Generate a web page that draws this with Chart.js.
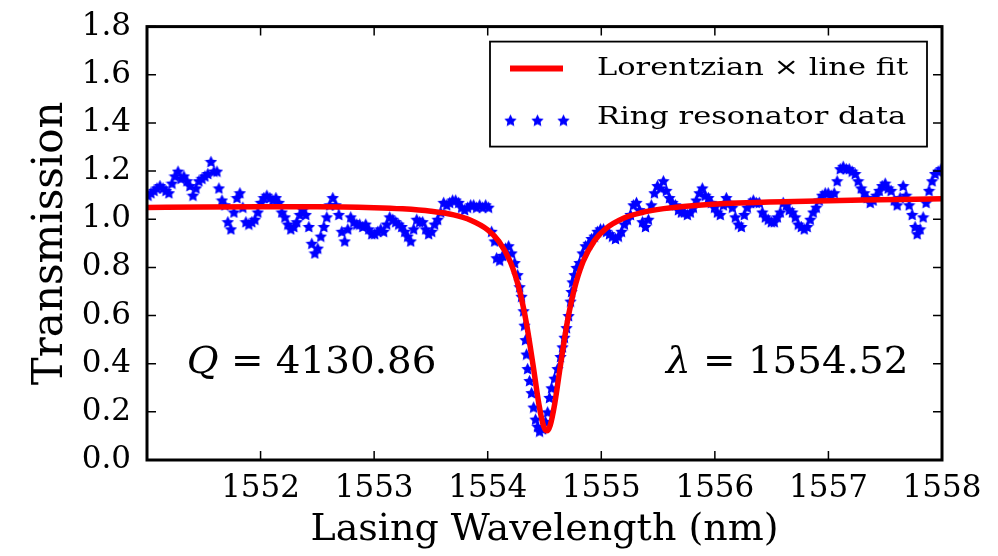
<!DOCTYPE html>
<html>
<head>
<meta charset="utf-8">
<script src="https://cdn.jsdelivr.net/npm/chart.js@4.4.1/dist/chart.umd.min.js"></script>
<style>
  body { margin: 0; background: #fff; }
  #wrap { width: 998px; height: 556px; }
</style>
</head>
<body>
<div id="wrap"><canvas id="chart" width="998" height="556"></canvas></div>
<script>
const dataWavelength = [
  1551.009, 1551.035, 1551.062, 1551.088, 1551.114, 1551.141, 1551.167, 1551.193, 1551.220, 1551.246,
  1551.273, 1551.299, 1551.325, 1551.352, 1551.378, 1551.405, 1551.431, 1551.457, 1551.484, 1551.510,
  1551.536, 1551.563, 1551.589, 1551.616, 1551.633, 1551.660, 1551.686, 1551.712, 1551.739, 1551.765,
  1551.792, 1551.818, 1551.844, 1551.871, 1551.897, 1551.923, 1551.950, 1551.976, 1552.003, 1552.029,
  1552.055, 1552.082, 1552.108, 1552.135, 1552.161, 1552.187, 1552.214, 1552.240, 1552.266, 1552.293,
  1552.319, 1552.346, 1552.372, 1552.398, 1552.425, 1552.451, 1552.478, 1552.504, 1552.530, 1552.557,
  1552.583, 1552.609, 1552.636, 1552.662, 1552.689, 1552.715, 1552.741, 1552.768, 1552.794, 1552.821,
  1552.847, 1552.873, 1552.900, 1552.926, 1552.952, 1552.979, 1553.005, 1553.032, 1553.058, 1553.084,
  1553.111, 1553.137, 1553.164, 1553.190, 1553.216, 1553.243, 1553.269, 1553.295, 1553.322, 1553.348,
  1553.375, 1553.401, 1553.427, 1553.454, 1553.480, 1553.507, 1553.533, 1553.559, 1553.586, 1553.612,
  1553.639, 1553.665, 1553.691, 1553.718, 1553.744, 1553.770, 1553.797, 1553.823, 1553.850, 1553.876,
  1553.902, 1553.929, 1553.955, 1553.982, 1554.008, 1554.034, 1554.061, 1554.078, 1554.105, 1554.131,
  1554.157, 1554.184, 1554.210, 1554.237, 1554.263, 1554.281, 1554.298, 1554.316, 1554.324, 1554.333,
  1554.342, 1554.351, 1554.368, 1554.386, 1554.404, 1554.421, 1554.439, 1554.456, 1554.483, 1554.509,
  1554.527, 1554.544, 1554.562, 1554.588, 1554.615, 1554.641, 1554.659, 1554.676, 1554.694, 1554.712,
  1554.729, 1554.738, 1554.747, 1554.764, 1554.782, 1554.808, 1554.835, 1554.861, 1554.887, 1554.914,
  1554.940, 1554.966, 1554.993, 1555.019, 1555.046, 1555.072, 1555.098, 1555.125, 1555.151, 1555.178,
  1555.204, 1555.230, 1555.257, 1555.283, 1555.310, 1555.336, 1555.362, 1555.389, 1555.415, 1555.441,
  1555.468, 1555.494, 1555.521, 1555.547, 1555.573, 1555.600, 1555.626, 1555.653, 1555.679, 1555.705,
  1555.732, 1555.758, 1555.784, 1555.811, 1555.837, 1555.864, 1555.890, 1555.916, 1555.943, 1555.969,
  1555.996, 1556.022, 1556.048, 1556.075, 1556.101, 1556.127, 1556.154, 1556.180, 1556.207, 1556.233,
  1556.259, 1556.286, 1556.312, 1556.339, 1556.365, 1556.391, 1556.418, 1556.444, 1556.470, 1556.497,
  1556.523, 1556.550, 1556.576, 1556.602, 1556.629, 1556.655, 1556.682, 1556.708, 1556.734, 1556.761,
  1556.787, 1556.813, 1556.840, 1556.866, 1556.893, 1556.919, 1556.945, 1556.972, 1556.998, 1557.024,
  1557.051, 1557.077, 1557.104, 1557.130, 1557.157, 1557.183, 1557.209, 1557.236, 1557.262, 1557.288,
  1557.315, 1557.341, 1557.368, 1557.394, 1557.420, 1557.447, 1557.473, 1557.500, 1557.526, 1557.552,
  1557.579, 1557.605, 1557.631, 1557.658, 1557.684, 1557.711, 1557.737, 1557.763, 1557.781, 1557.807,
  1557.834, 1557.860, 1557.886, 1557.913, 1557.939, 1557.966, 1557.992
];
const dataTransmission = [
  1.10, 1.11, 1.12, 1.13, 1.14, 1.13, 1.12, 1.11, 1.15, 1.18,
  1.20, 1.17, 1.18, 1.16, 1.14, 1.10, 1.13, 1.16, 1.17, 1.18,
  1.19, 1.24, 1.20, 1.20, 1.13, 1.08, 1.06, 0.99, 0.96, 1.03,
  1.09, 1.11, 1.05, 0.99, 0.98, 0.99, 1.00, 1.03, 1.07, 1.09,
  1.10, 1.09, 1.08, 1.09, 1.07, 1.03, 1.01, 0.98, 0.96, 0.97,
  0.99, 1.02, 1.04, 1.02, 0.97, 0.90, 0.86, 0.88, 0.93, 0.97,
  1.01, 1.06, 1.09, 1.06, 1.02, 0.95, 0.91, 0.96, 1.01, 0.99,
  0.98, 0.98, 0.97, 0.98, 0.96, 0.94, 0.94, 0.95, 0.96, 0.95,
  0.98, 1.01, 1.00, 0.99, 0.98, 0.97, 0.95, 0.93, 0.91, 0.96,
  1.00, 0.99, 0.99, 0.96, 0.94, 0.95, 0.98, 1.00, 1.03, 1.07,
  1.06, 1.07, 1.08, 1.08, 1.07, 1.05, 1.04, 1.05, 1.06, 1.06,
  1.05, 1.06, 1.05, 1.06, 1.05, 0.95, 0.91, 0.84, 0.83, 0.85,
  0.88, 0.89, 0.86, 0.82, 0.77, 0.72, 0.68, 0.62, 0.56, 0.50,
  0.44, 0.38, 0.33, 0.28, 0.22, 0.17, 0.14, 0.12, 0.13, 0.16,
  0.20, 0.26, 0.30, 0.34, 0.38, 0.43, 0.47, 0.51, 0.55, 0.60,
  0.66, 0.70, 0.74, 0.77, 0.80, 0.82, 0.86, 0.89, 0.90, 0.92,
  0.93, 0.95, 0.96, 0.96, 0.95, 0.94, 0.93, 0.92, 0.93, 0.95,
  0.98, 1.00, 1.02, 1.06, 1.07, 1.04, 0.99, 0.97, 1.00, 1.06,
  1.11, 1.14, 1.13, 1.16, 1.12, 1.09, 1.07, 1.06, 1.04, 1.03,
  1.03, 1.02, 1.03, 1.05, 1.08, 1.11, 1.13, 1.10, 1.09, 1.07,
  1.05, 1.03, 1.02, 1.06, 1.09, 1.07, 1.05, 1.01, 0.98, 0.97,
  1.02, 1.05, 1.07, 1.08, 1.07, 1.07, 1.03, 1.01, 1.00, 0.99,
  0.99, 1.01, 1.03, 1.07, 1.06, 1.04, 1.03, 1.01, 0.98, 0.97,
  0.96, 0.97, 1.00, 1.03, 1.05, 1.08, 1.10, 1.11, 1.11, 1.10,
  1.11, 1.16, 1.21, 1.22, 1.21, 1.21, 1.20, 1.19, 1.16, 1.13,
  1.11, 1.09, 1.07, 1.08, 1.10, 1.12, 1.14, 1.15, 1.13, 1.12,
  1.08, 1.06, 1.09, 1.14, 1.10, 1.06, 1.02, 0.97, 0.94, 0.96,
  1.01, 1.07, 1.12, 1.16, 1.19, 1.20, 1.21
];

// Lorentzian x line fit, sampled off the red curve
const fitWavelength = [
  1551.0, 1551.5, 1552.0, 1552.5, 1553.0, 1553.25, 1553.5, 1553.7, 1553.85, 1554.0,
  1554.1, 1554.2, 1554.28, 1554.34, 1554.4, 1554.45, 1554.49, 1554.52, 1554.55, 1554.59,
  1554.64, 1554.7, 1554.76, 1554.84, 1554.94, 1555.04, 1555.2, 1555.35, 1555.55, 1555.8,
  1556.2, 1556.7, 1557.3, 1558.0
];
const fitTransmission = [
  1.049, 1.051, 1.052, 1.052, 1.048, 1.043, 1.033, 1.018, 0.996, 0.956,
  0.907, 0.822, 0.704, 0.570, 0.392, 0.234, 0.144, 0.121, 0.144, 0.234,
  0.392, 0.571, 0.705, 0.824, 0.911, 0.961, 1.005, 1.027, 1.044, 1.056,
  1.067, 1.074, 1.080, 1.085
];

const xTicks = [1552, 1553, 1554, 1555, 1556, 1557, 1558];
const yTicks = [0.0, 0.2, 0.4, 0.6, 0.8, 1.0, 1.2, 1.4, 1.6, 1.8];

const qText = "4130.86";
const lambdaText = "1554.52";

const SERIF = "'DejaVu Serif', serif";

// filled five point star used as the marker
function makeStar(size, color) {
  const c = document.createElement("canvas");
  c.width = size;
  c.height = size;
  const g = c.getContext("2d");
  const r1 = size / 2, r2 = size / 2 * 0.5;
  g.beginPath();
  for (let i = 0; i < 10; i++) {
    const r = i % 2 === 0 ? r1 : r2;
    const a = -Math.PI / 2 + i * Math.PI / 5;
    const px = size / 2 + r * Math.cos(a);
    const py = size / 2 + 0.8 + r * Math.sin(a);
    if (i === 0) g.moveTo(px, py); else g.lineTo(px, py);
  }
  g.closePath();
  g.fillStyle = color;
  g.fill();
  return c;
}
const starImg = makeStar(13, "#0000ff");

// text stretched sideways, the figure is a bit wider than tall
function wideText(ctx, str, x, y, sx) {
  ctx.save();
  ctx.translate(x, y);
  ctx.scale(sx, 1);
  ctx.fillText(str, 0, 0);
  const w = ctx.measureText(str).width * sx;
  ctx.restore();
  return w;
}

const framePlugin = {
  id: "frame",
  afterDraw(chart) {
    const ctx = chart.ctx;
    const a = chart.chartArea;
    const xs = chart.scales.x, ys = chart.scales.y;
    ctx.save();
    // inward ticks on all four sides
    ctx.strokeStyle = "#000";
    ctx.lineWidth = 1.5;
    ctx.beginPath();
    xTicks.forEach(v => {
      const px = xs.getPixelForValue(v);
      ctx.moveTo(px, a.bottom); ctx.lineTo(px, a.bottom - 9);
      ctx.moveTo(px, a.top); ctx.lineTo(px, a.top + 9);
    });
    yTicks.forEach(v => {
      const py = ys.getPixelForValue(v);
      ctx.moveTo(a.left, py); ctx.lineTo(a.left + 9, py);
      ctx.moveTo(a.right, py); ctx.lineTo(a.right - 9, py);
    });
    ctx.stroke();
    ctx.lineWidth = 3;
    ctx.strokeRect(a.left, a.top, a.right - a.left, a.bottom - a.top);

    // annotations
    ctx.fillStyle = "#000";
    ctx.textBaseline = "alphabetic";
    ctx.textAlign = "left";
    const y = ys.getPixelForValue(0.36);
    let x = xs.getPixelForValue(1551.35);
    ctx.font = "italic 37px " + SERIF;
    x += wideText(ctx, "Q", x, y, 1.05);
    ctx.font = "37px " + SERIF;
    wideText(ctx, " = " + qText, x, y, 1.05);

    x = xs.getPixelForValue(1555.57);
    ctx.font = "italic 37px " + SERIF;
    x += wideText(ctx, "λ", x, y, 1.05);
    ctx.font = "37px " + SERIF;
    wideText(ctx, " = " + lambdaText, x, y, 1.05);

    // legend box
    const lx = a.left + 343, ly = a.top + 15, lw = 437, lh = 105;
    ctx.fillStyle = "#fff";
    ctx.fillRect(lx, ly, lw, lh);
    ctx.strokeStyle = "#000";
    ctx.lineWidth = 1.8;
    ctx.strokeRect(lx, ly, lw, lh);
    ctx.strokeStyle = "#ff0000";
    ctx.lineWidth = 6;
    ctx.beginPath();
    ctx.moveTo(lx + 20, ly + 27);
    ctx.lineTo(lx + 73, ly + 27);
    ctx.stroke();
    [20, 47, 73].forEach(dx => {
      ctx.drawImage(starImg, lx + dx - 6, ly + 78 - 6);
    });
    ctx.fillStyle = "#000";
    ctx.font = "25px " + SERIF;
    ctx.textBaseline = "middle";
    wideText(ctx, "Lorentzian × line fit", lx + 107, ly + 27, 1.22);
    wideText(ctx, "Ring resonator data", lx + 107, ly + 76, 1.22);
    ctx.restore();
  }
};

const starPoints = dataWavelength.map((w, i) => ({ x: w, y: dataTransmission[i] }));
const fitPoints = fitWavelength.map((w, i) => ({ x: w, y: fitTransmission[i] }));

new Chart(document.getElementById("chart"), {
  type: "scatter",
  data: {
    datasets: [
      {
        label: "Lorentzian × line fit",
        data: fitPoints,
        showLine: true,
        borderColor: "#ff0000",
        borderWidth: 5.5,
        pointRadius: 0,
        cubicInterpolationMode: "monotone",
        order: 0
      },
      {
        label: "Ring resonator data",
        data: starPoints,
        pointStyle: starImg,
        pointRadius: 6,
        order: 1
      }
    ]
  },
  plugins: [framePlugin],
  options: {
    responsive: false,
    animation: false,
    events: [],
    layout: { padding: { left: 0, top: 25, right: 56, bottom: 0 } },
    plugins: {
      legend: { display: false },
      tooltip: { enabled: false }
    },
    scales: {
      x: {
        type: "linear",
        min: 1551,
        max: 1558,
        afterFit: s => { s.height = 96; },
        afterBuildTicks: s => { s.ticks = xTicks.map(v => ({ value: v })); },
        grid: { display: false },
        border: { display: false },
        ticks: {
          color: "#000",
          padding: 2,
          maxRotation: 0,
          font: { family: SERIF, size: 31 },
          callback: v => String(v)
        },
        title: {
          display: true,
          text: "Lasing Wavelength (nm)",
          color: "#000",
          font: { family: SERIF, size: 38 },
          padding: { top: 0, bottom: 3 }
        }
      },
      y: {
        min: 0,
        max: 1.8,
        afterFit: s => { s.width = 147; },
        afterBuildTicks: s => { s.ticks = yTicks.map(v => ({ value: v })); },
        grid: { display: false },
        border: { display: false },
        ticks: {
          color: "#000",
          padding: 8,
          font: { family: SERIF, size: 31 },
          callback: v => Number(v).toFixed(1)
        },
        title: {
          display: true,
          text: "Transmission",
          color: "#000",
          font: { family: SERIF, size: 42 },
          padding: { top: 26, bottom: 0 }
        }
      }
    }
  }
});
</script>
</body>
</html>
